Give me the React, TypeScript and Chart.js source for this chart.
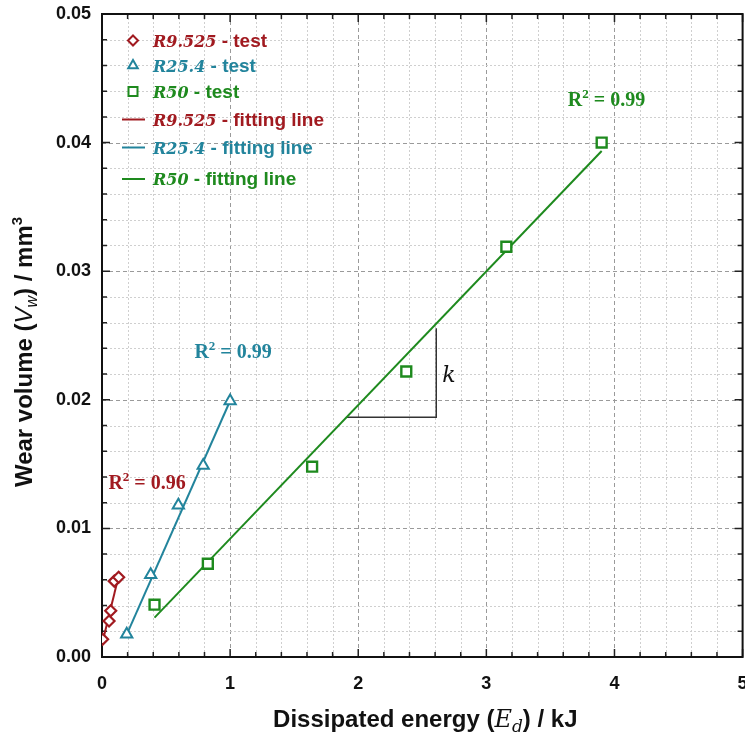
import React, { useEffect, useRef } from 'react';
import { Chart, registerables } from 'chart.js';
Chart.register(...registerables);

const RED = '#A11A20';
const TEAL = '#22849C';
const GREEN = '#1E8A1E';

// Test data (Dissipated energy kJ, wear volume mm3)
const r9525X = [0.005, 0.055, 0.068, 0.096, 0.13];
const r9525Y = [0.00138, 0.0028, 0.0036, 0.0059, 0.0062];
const r254X = [0.193, 0.38, 0.596, 0.79, 1.0];
const r254Y = [0.00177, 0.0064, 0.0118, 0.0149, 0.0199];
const r50X = [0.41, 0.826, 1.64, 2.375, 3.156, 3.9];
const r50Y = [0.00407, 0.00725, 0.0148, 0.0222, 0.0319, 0.04];

// Fitting lines
const r9525FitX = [0.005, 0.13];
const r9525FitY = [0.0012, 0.0063];
const r254FitX = [0.1875, 1.008];
const r254FitY = [0.00163, 0.0201];
const r50FitX = [0.41, 3.9];
const r50FitY = [0.00306, 0.03935];

// Slope triangle (k)
const kX = [1.912, 2.609, 2.609];
const kY = [0.01864, 0.01864, 0.02556];

// Tick labels
const xTickLabels = ['0', '1', '2', '3', '4', '5'];
const yTickLabels = ['0.00', '0.01', '0.02', '0.03', '0.04', '0.05'];

// R² texts
const r2Texts = ['0.96', '0.99', '0.99'];
const r2Anchors = [
  { x: 0.352, y: 0.01306 },
  { x: 1.023, y: 0.02323 },
  { x: 3.9375, y: 0.04287 },
];
const kAnchor = { x: 2.707, y: 0.0214 };

const toXY = (xs: number[], ys: number[]) => xs.map((x, i) => ({ x, y: ys[i] }));

type Run = { t: string; f: string; dy?: number };
function drawRuns(ctx: CanvasRenderingContext2D, runs: Run[], x: number, y: number, align: 'left' | 'center') {
  let w = 0;
  runs.forEach((r) => {
    ctx.font = r.f;
    w += ctx.measureText(r.t).width;
  });
  let cx = align === 'center' ? x - w / 2 : x;
  ctx.textAlign = 'left';
  ctx.textBaseline = 'alphabetic';
  runs.forEach((r) => {
    ctx.font = r.f;
    ctx.fillText(r.t, cx, y + (r.dy || 0));
    cx += ctx.measureText(r.t).width;
  });
}

function drawMarker(ctx: CanvasRenderingContext2D, kind: string, x: number, y: number, color: string) {
  ctx.save();
  ctx.strokeStyle = color;
  ctx.fillStyle = '#fff';
  ctx.lineWidth = 2;
  ctx.beginPath();
  if (kind === 'diamond') {
    const r = 5;
    ctx.moveTo(x, y - r);
    ctx.lineTo(x + r, y);
    ctx.lineTo(x, y + r);
    ctx.lineTo(x - r, y);
    ctx.closePath();
  } else if (kind === 'triangle') {
    const r = 5.5;
    ctx.moveTo(x, y - r);
    ctx.lineTo(x + r * 0.866, y + r * 0.5);
    ctx.lineTo(x - r * 0.866, y + r * 0.5);
    ctx.closePath();
  } else if (kind === 'square') {
    const s = 4.5;
    ctx.rect(x - s, y - s, 2 * s, 2 * s);
  } else {
    ctx.moveTo(x - 11, y);
    ctx.lineTo(x + 12, y);
    ctx.stroke();
    ctx.restore();
    return;
  }
  ctx.fill();
  ctx.stroke();
  ctx.restore();
}

const isMajor = (v: number, step: number) => Math.abs(v / step - Math.round(v / step)) < 1e-6;

const framePlugin = {
  id: 'frameGrid',
  beforeDatasetsDraw(chart: any) {
    const { ctx, chartArea: a, scales } = chart;
    const xs = scales.x;
    const ys = scales.y;
    ctx.save();
    // grid
    xs.ticks.forEach((t: any) => {
      const px = Math.round(xs.getPixelForValue(t.value)) + 0.5;
      if (px <= a.left + 1 || px >= a.right - 1) return;
      const major = isMajor(t.value, 1);
      ctx.strokeStyle = major ? '#9a9a9a' : '#cfcfcf';
      ctx.setLineDash(major ? [4, 3] : [2, 2]);
      ctx.lineWidth = 1;
      ctx.beginPath();
      ctx.moveTo(px, a.top);
      ctx.lineTo(px, a.bottom);
      ctx.stroke();
    });
    ys.ticks.forEach((t: any) => {
      const py = Math.round(ys.getPixelForValue(t.value)) + 0.5;
      if (py <= a.top + 1 || py >= a.bottom - 1) return;
      const major = isMajor(t.value, 0.01);
      ctx.strokeStyle = major ? '#9a9a9a' : '#cfcfcf';
      ctx.setLineDash(major ? [4, 3] : [2, 2]);
      ctx.lineWidth = 1;
      ctx.beginPath();
      ctx.moveTo(a.left, py);
      ctx.lineTo(a.right, py);
      ctx.stroke();
    });
    ctx.setLineDash([]);
    // ticks (inward)
    ctx.strokeStyle = '#222';
    ctx.lineWidth = 1.5;
    xs.ticks.forEach((t: any) => {
      const px = xs.getPixelForValue(t.value);
      const len = isMajor(t.value, 1) ? 8 : 5;
      ctx.beginPath();
      ctx.moveTo(px, a.bottom);
      ctx.lineTo(px, a.bottom - len);
      ctx.moveTo(px, a.top);
      ctx.lineTo(px, a.top + len);
      ctx.stroke();
    });
    ys.ticks.forEach((t: any) => {
      const py = ys.getPixelForValue(t.value);
      const len = isMajor(t.value, 0.01) ? 8 : 5;
      ctx.beginPath();
      ctx.moveTo(a.left, py);
      ctx.lineTo(a.left + len, py);
      ctx.moveTo(a.right, py);
      ctx.lineTo(a.right - len, py);
      ctx.stroke();
    });
    // frame
    ctx.strokeStyle = '#111';
    ctx.lineWidth = 2;
    ctx.strokeRect(a.left, a.top, a.right - a.left, a.bottom - a.top);
    ctx.restore();
  },
  afterDraw(chart: any) {
    const { ctx, chartArea: a, scales } = chart;
    const xs = scales.x;
    const ys = scales.y;
    ctx.save();

    // Legend
    const legendRows = [
      { kind: 'diamond', color: RED, it: 'R9.525', rest: ' - test' },
      { kind: 'triangle', color: TEAL, it: 'R25.4', rest: ' - test' },
      { kind: 'square', color: GREEN, it: 'R50', rest: ' - test' },
      { kind: 'line', color: RED, it: 'R9.525', rest: ' - fitting line' },
      { kind: 'line', color: TEAL, it: 'R25.4', rest: ' - fitting line' },
      { kind: 'line', color: GREEN, it: 'R50', rest: ' - fitting line' },
    ];
    const rowOffsets = [26.5, 51.5, 77.5, 105.5, 133.5, 165];
    legendRows.forEach((r, i) => {
      const cy = a.top + rowOffsets[i];
      drawMarker(ctx, r.kind, a.left + 31, cy, r.color);
      ctx.fillStyle = r.color;
      drawRuns(
        ctx,
        [
          { t: r.it, f: "italic bold 16px 'DejaVu Serif'" },
          { t: r.rest, f: "bold 19px 'Liberation Sans'" },
        ],
        a.left + 51,
        cy + 6,
        'left'
      );
    });

    // R² labels
    const r2Colors = [RED, TEAL, GREEN];
    r2Anchors.forEach((p, i) => {
      ctx.fillStyle = r2Colors[i];
      drawRuns(
        ctx,
        [
          { t: 'R', f: "bold 20px 'Liberation Serif'" },
          { t: '2', f: "bold 13px 'Liberation Serif'", dy: -8 },
          { t: ' = ' + r2Texts[i], f: "bold 20px 'Liberation Serif'" },
        ],
        xs.getPixelForValue(p.x),
        ys.getPixelForValue(p.y),
        'center'
      );
    });

    // k label
    ctx.fillStyle = '#111';
    drawRuns(ctx, [{ t: 'k', f: "italic 22px 'DejaVu Serif'" }], xs.getPixelForValue(kAnchor.x), ys.getPixelForValue(kAnchor.y), 'center');

    // X title
    ctx.fillStyle = '#111';
    drawRuns(
      ctx,
      [
        { t: 'Dissipated energy (', f: "bold 24px 'Liberation Sans'" },
        { t: 'E', f: "italic 24px 'DejaVu Serif'" },
        { t: 'd', f: "italic 17px 'DejaVu Serif'", dy: 5 },
        { t: ') / kJ', f: "bold 24px 'Liberation Sans'" },
      ],
      (a.left + a.right) / 2 + 3,
      727,
      'center'
    );

    // Y title
    ctx.translate(24, 352);
    ctx.rotate(-Math.PI / 2);
    drawRuns(
      ctx,
      [
        { t: 'Wear volume (', f: "bold 24px 'Liberation Sans'" },
        { t: 'V', f: "italic 24px 'Liberation Sans'" },
        { t: 'w', f: "italic 16px 'Liberation Sans'", dy: 5 },
        { t: ') / mm', f: "bold 24px 'Liberation Sans'" },
        { t: '3', f: "bold 15px 'Liberation Sans'", dy: -10 },
      ],
      0,
      8,
      'center'
    );
    ctx.restore();
  },
};

export default function App() {
  const ref = useRef<HTMLCanvasElement>(null);
  useEffect(() => {
    if (!ref.current) return;
    const chart = new Chart(ref.current, {
      type: 'line',
      data: {
        datasets: [
          {
            label: 'R9.525 - test',
            data: toXY(r9525X, r9525Y),
            showLine: false,
            pointStyle: 'rectRot',
            pointRadius: 5.5,
            borderColor: RED,
            backgroundColor: '#fff',
            pointBorderWidth: 2.2,
            order: 0,
          },
          {
            label: 'R25.4 - test',
            data: toXY(r254X, r254Y),
            showLine: false,
            pointStyle: 'triangle',
            pointRadius: 6.5,
            borderColor: TEAL,
            backgroundColor: '#fff',
            pointBorderWidth: 2,
            order: 0,
          },
          {
            label: 'R50 - test',
            data: toXY(r50X, r50Y),
            showLine: false,
            pointStyle: 'rect',
            pointRadius: 7,
            borderColor: GREEN,
            backgroundColor: '#fff',
            pointBorderWidth: 2.4,
            order: 0,
          },
          {
            label: 'R9.525 - fitting line',
            data: toXY(r9525FitX, r9525FitY),
            borderColor: RED,
            borderWidth: 2,
            pointRadius: 0,
            order: 1,
          },
          {
            label: 'R25.4 - fitting line',
            data: toXY(r254FitX, r254FitY),
            borderColor: TEAL,
            borderWidth: 2,
            pointRadius: 0,
            order: 1,
          },
          {
            label: 'R50 - fitting line',
            data: toXY(r50FitX, r50FitY),
            borderColor: GREEN,
            borderWidth: 2,
            pointRadius: 0,
            order: 1,
          },
          {
            label: 'k',
            data: toXY(kX, kY),
            borderColor: '#333',
            borderWidth: 1.5,
            pointRadius: 0,
            order: 2,
          },
        ],
      },
      options: {
        animation: false,
        responsive: false,
        devicePixelRatio: 1,
        layout: { padding: { top: 14, right: 3, left: 0, bottom: 0 } },
        plugins: { legend: { display: false }, tooltip: { enabled: false } },
        scales: {
          x: {
            type: 'linear',
            min: 0,
            max: 5,
            grid: { display: false, drawTicks: false },
            border: { display: false },
            ticks: {
              stepSize: 0.2,
              autoSkip: false,
              maxRotation: 0,
              padding: 16,
              color: '#111',
              font: { family: 'Liberation Sans', size: 18, weight: 'bold' },
              callback: (v: any) => (isMajor(Number(v), 1) ? xTickLabels[Math.round(Number(v))] : ''),
            },
            afterFit: (s: any) => {
              s.height = 76;
              s.paddingLeft = 0;
              s.paddingRight = 0;
            },
          },
          y: {
            type: 'linear',
            min: 0,
            max: 0.05,
            grid: { display: false, drawTicks: false },
            border: { display: false },
            ticks: {
              stepSize: 0.002,
              autoSkip: false,
              padding: 11,
              color: '#111',
              font: { family: 'Liberation Sans', size: 18, weight: 'bold' },
              callback: (v: any) => (isMajor(Number(v), 0.01) ? yTickLabels[Math.round(Number(v) / 0.01)] : ''),
            },
            afterFit: (s: any) => {
              s.width = 102;
              s.paddingTop = 0;
              s.paddingBottom = 0;
            },
          },
        },
      },
      plugins: [framePlugin],
    } as any);
    return () => chart.destroy();
  }, []);
  return (
    <div style={{ position: 'absolute', left: 0, top: 0, width: 745, height: 733, overflow: 'hidden' }}>
      <canvas ref={ref} width={752} height={733} style={{ display: 'block' }} />
    </div>
  );
}
